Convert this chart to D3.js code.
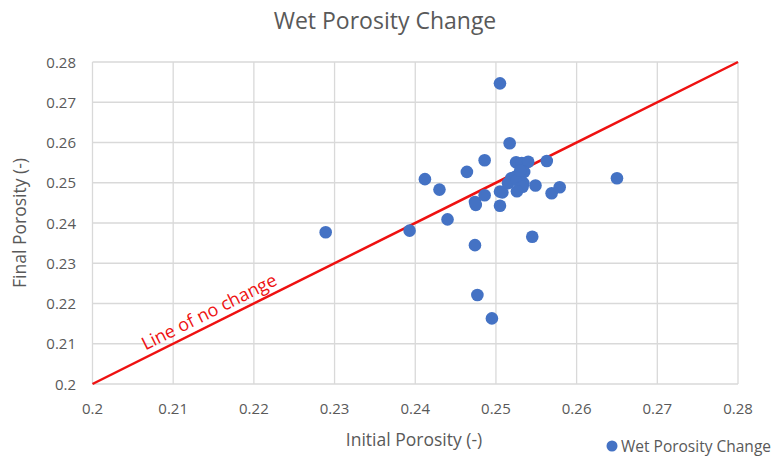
<!DOCTYPE html>
<html>
<head>
<meta charset="utf-8">
<script src="https://cdn.jsdelivr.net/npm/d3@7"></script>
<style>
  body { margin: 0; background: #fff; }
  text { font-family: "Open Sans", sans-serif; fill: #595959; }
</style>
</head>
<body>
<div id="chart"></div>
<script>
// initial porosity / final porosity
const initialPorosity = [0.2289, 0.2393, 0.2412, 0.2430, 0.2440, 0.2464, 0.2486, 0.2474, 0.2475, 0.2486,
  0.2474, 0.2477, 0.2495, 0.2505, 0.2517, 0.2505, 0.2508, 0.2505, 0.2525, 0.2532,
  0.2540, 0.2563, 0.2535, 0.2519, 0.2524, 0.2515, 0.2526, 0.2534, 0.2533, 0.2526,
  0.2549, 0.2569, 0.2579, 0.2650, 0.2545, 0.2530];
const finalPorosity = [0.2377, 0.2381, 0.2509, 0.2483, 0.2409, 0.2527, 0.2556, 0.2452, 0.2445, 0.2469,
  0.2345, 0.2221, 0.2163, 0.2747, 0.2598, 0.2478, 0.2476, 0.2443, 0.2551, 0.2549,
  0.2552, 0.2554, 0.2527, 0.2511, 0.2515, 0.2499, 0.2507, 0.2499, 0.2490, 0.2479,
  0.2493, 0.2474, 0.2489, 0.2511, 0.2366, 0.2530];
const ticks = [0.2, 0.21, 0.22, 0.23, 0.24, 0.25, 0.26, 0.27, 0.28];
const noChange = [0.2, 0.28];

let width = 776, height = 460;
let svg = d3.select('#chart').append('svg')
    .attr('width', width).attr('height', height);

var x = d3.scaleLinear().domain([0.2, 0.28]).range([92.5, 738]);
var y = d3.scaleLinear().domain([0.2, 0.28]).range([384, 62]);

// grid
svg.append('g').selectAll('line').data(ticks).enter().append('line')
    .attr('x1', d => x(d)).attr('x2', d => x(d))
    .attr('y1', y(0.2)).attr('y2', y(0.28))
    .attr('stroke', '#d9d9d9').attr('stroke-width', 1.3);
svg.append('g').selectAll('line').data(ticks).enter().append('line')
    .attr('x1', x(0.2)).attr('x2', x(0.28))
    .attr('y1', d => y(d)).attr('y2', d => y(d))
    .attr('stroke', '#d9d9d9').attr('stroke-width', 1.3);

// tick labels
svg.append('g').selectAll('text').data(ticks).enter().append('text')
    .attr('x', d => x(d)).attr('y', 414)
    .attr('text-anchor', 'middle').style('font-size', '15px')
    .text(d => d3.format('')(+d.toFixed(2)));
svg.append('g').selectAll('text').data(ticks).enter().append('text')
    .attr('x', 76).attr('y', d => y(d) + 5.5)
    .attr('text-anchor', 'end').style('font-size', '15px')
    .text(d => d3.format('')(+d.toFixed(2)));

// axis titles
svg.append('text').attr('x', 414).attr('y', 446)
    .attr('text-anchor', 'middle').style('font-size', '17.5px')
    .text('Initial Porosity (-)');
svg.append('text').attr('transform', 'translate(26,223) rotate(-90)')
    .attr('text-anchor', 'middle').style('font-size', '17.5px')
    .text('Final Porosity (-)');

// title
svg.append('text').attr('x', 385).attr('y', 29)
    .attr('text-anchor', 'middle').style('font-size', '23px')
    .text('Wet Porosity Change');

// line of no change
svg.append('line')
    .attr('x1', x(noChange[0])).attr('y1', y(noChange[0]))
    .attr('x2', x(noChange[1])).attr('y2', y(noChange[1]))
    .attr('stroke', '#ee1111').attr('stroke-width', 2.5);
let ang = Math.atan2(y(0.28) - y(0.2), x(0.28) - x(0.2)) * 180 / Math.PI;
svg.append('text')
    .attr('transform', 'translate(' + x(0.2148) + ',' + (y(0.2148) - 7) + ') rotate(' + ang + ')')
    .attr('text-anchor', 'middle').style('font-size', '18px').style('fill', '#ee1111')
    .text('Line of no change');

// points
svg.append('g').selectAll('circle').data(initialPorosity).enter().append('circle')
    .attr('cx', d => x(d)).attr('cy', (d, i) => y(finalPorosity[i]))
    .attr('r', 6.3).attr('fill', '#4472c4');

// legend
svg.append('circle').attr('cx', 612).attr('cy', 446).attr('r', 5.5).attr('fill', '#4472c4');
svg.append('text').attr('x', 621).attr('y', 451.5).style('font-size', '15.5px')
    .text('Wet Porosity Change');
</script>
</body>
</html>
